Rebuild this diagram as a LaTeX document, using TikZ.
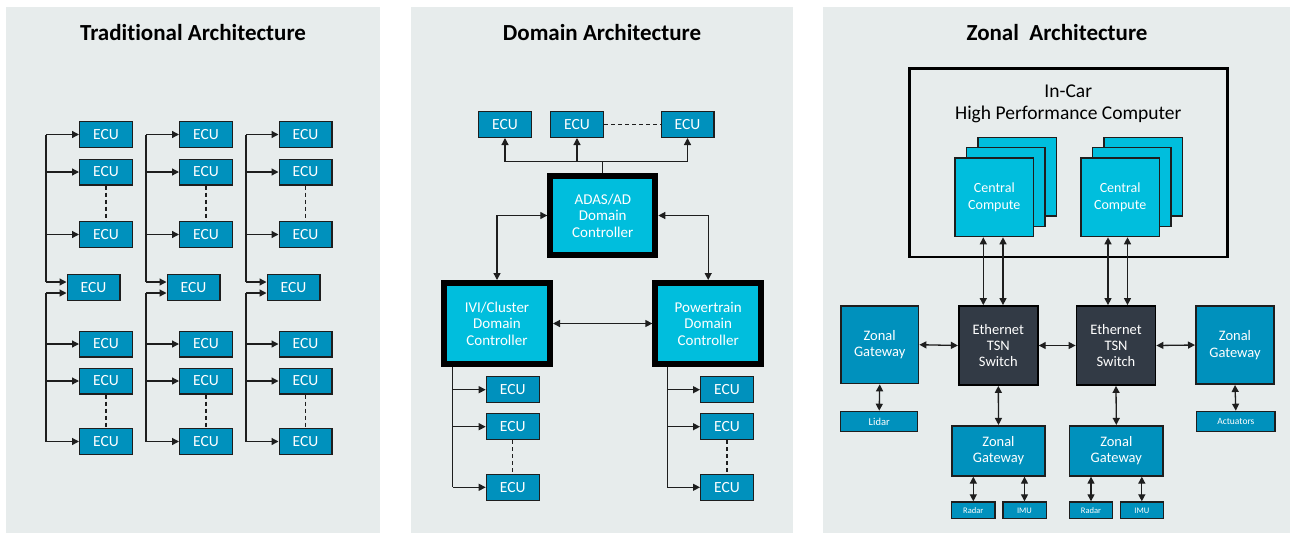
\documentclass[tikz,border=0pt]{standalone}
\usepackage{fontspec}
\setmainfont{Carlito}[Ligatures=NoCommon]
\usetikzlibrary{arrows.meta,calc}
\definecolor{panelbg}{HTML}{E7ECEC}
\definecolor{ecublue}{HTML}{0091BD}
\definecolor{cyanbox}{HTML}{00BEDD}
\definecolor{darksw}{HTML}{323A45}
\definecolor{linec}{HTML}{1E1E1E}
\begin{document}
\begin{tikzpicture}[x=1pt,y=-1pt,
  title/.style={font=\fontsize{23}{25}\selectfont\bfseries,text=black},
  bluebox/.style={draw=linec,fill=ecublue,line width=1.2pt,text=white,inner sep=0pt,align=center},
  ecu/.style={bluebox,minimum width=52.8pt,minimum height=25.8pt,font=\fontsize{15.5}{16}\selectfont},
  ctrl/.style={draw=black,fill=cyanbox,line width=6pt,text=white,inner sep=0pt,align=center,
     font=\fontsize{15}{16.6}\selectfont},
  cc/.style={draw=linec,fill=cyanbox,line width=1.4pt,text=white,inner sep=0pt,align=center,
     minimum width=78.6pt,minimum height=78.6pt,font=\fontsize{14}{17.4}\selectfont},
  sw/.style={draw=black,fill=darksw,line width=1.8pt,text=white,inner sep=0pt,align=center,
     minimum width=79pt,minimum height=79pt,font=\fontsize{14.5}{16.4}\selectfont},
  zg/.style={bluebox,line width=1.6pt,font=\fontsize{14.5}{16.6}\selectfont},
  small/.style={bluebox,line width=1.2pt},
  arr/.style={draw=linec,line width=1.3pt,-{Triangle[length=7pt,width=7pt]}},
  darr/.style={draw=linec,line width=1.3pt,{Triangle[length=7pt,width=7pt]}-{Triangle[length=7pt,width=7pt]}},
  ln/.style={draw=linec,line width=1.3pt},
  dsh/.style={draw=linec,line width=1.2pt,dashed,dash pattern=on 4pt off 3pt}
]
\useasboundingbox (0,0) rectangle (1298,539);
\fill[white] (0,0) rectangle (1298,539);
% panels
\fill[panelbg] (6,7) rectangle (380,533);
\fill[panelbg] (411,7) rectangle (793,533);
\fill[panelbg] (823,7) rectangle (1290,533);
% titles
\node[title] (title1) at (193,33) {Traditional Architecture};
\node[title] (title2) at (602,33) {Domain Architecture};
\node[title] (title3) at (1057,33) {Zonal\ \ Architecture};

% ================= Traditional =================
\foreach \c/\bx/\ex/\mx in {1/46/106/93.5, 2/146/206/193.5, 3/246/305.5/293.5} {
  \coordinate (bus\c) at (\bx,0);
  \node[ecu] (t\c a) at (\ex,134.5) {ECU};
  \node[ecu] (t\c b) at (\ex,172) {ECU};
  \node[ecu] (t\c c) at (\ex,234.5) {ECU};
  \node[ecu] (t\c m) at (\mx,287.5) {ECU};
  \node[ecu] (t\c d) at (\ex,344) {ECU};
  \node[ecu] (t\c e) at (\ex,381) {ECU};
  \node[ecu] (t\c f) at (\ex,441.5) {ECU};
  \coordinate (t\c mu) at ($(t\c m.west)+(0,-5.5)$);
  \coordinate (t\c ml) at ($(t\c m.west)+(0,5.5)$);
  \draw[ln] (bus\c |- t\c a.west) -- (bus\c |- t\c mu);
  \draw[ln] (bus\c |- t\c ml) -- (bus\c |- t\c f.west);
  \draw[arr] (bus\c |- t\c a.west) -- (t\c a.west);
  \draw[arr] (bus\c |- t\c b.west) -- (t\c b.west);
  \draw[arr] (bus\c |- t\c c.west) -- (t\c c.west);
  \draw[arr] (bus\c |- t\c mu) -- (t\c mu);
  \draw[arr] (bus\c |- t\c ml) -- (t\c ml);
  \draw[arr] (bus\c |- t\c d.west) -- (t\c d.west);
  \draw[arr] (bus\c |- t\c e.west) -- (t\c e.west);
  \draw[arr] (bus\c |- t\c f.west) -- (t\c f.west);
  \draw[dsh] (t\c b.south) -- (t\c c.north);
  \draw[dsh] (t\c e.south) -- (t\c f.north);
}

% ================= Domain =================
\node[ecu] (e1) at (505,124.5) {ECU};
\node[ecu] (e2) at (577,124.5) {ECU};
\node[ecu] (e3) at (687.5,124.5) {ECU};
\draw[dsh] (e2.east) -- (e3.west);
\node[ctrl,minimum width=105pt,minimum height=79.6pt] (adas) at (602.8,215.5) {ADAS/AD\\Domain\\Controller};
\node[ctrl,minimum width=106pt,minimum height=81pt] (ivi) at (497,323.5) {IVI/Cluster\\Domain\\Controller};
\node[ctrl,minimum width=105.7pt,minimum height=81pt] (pt) at (708.2,323.5) {Powertrain\\Domain\\Controller};
\coordinate (busm) at (602.8,161.7);
\draw[arr] (adas.north) -- (busm) -| (e1.south);
\draw[arr] (adas.north) -- (busm) -| (e2.south);
\draw[arr] (adas.north) -- (busm) -| (e3.south);
\draw[darr] (adas.west) -| (ivi.north);
\draw[darr] (adas.east) -| (pt.north);
\draw[darr] (ivi.east) -- (pt.west);
% ECUs under IVI / Powertrain
\foreach \g/\ex/\bx in {ivi/512.7/452.7, pt/727/667.3} {
  \node[ecu] (\g a) at (\ex,389.7) {ECU};
  \node[ecu] (\g b) at (\ex,426.7) {ECU};
  \node[ecu] (\g c) at (\ex,487.3) {ECU};
  \coordinate (\g bus) at (\bx,0);
  \draw[ln] (\g bus |- \g.south) -- (\g bus |- \g c.west);
  \draw[arr] (\g bus |- \g a.west) -- (\g a.west);
  \draw[arr] (\g bus |- \g b.west) -- (\g b.west);
  \draw[arr] (\g bus |- \g c.west) -- (\g c.west);
  \draw[dsh] (\g b.south) -- (\g c.north);
}

% ================= Zonal =================
\node[draw=black,line width=2.7pt,fill=none,minimum width=318pt,minimum height=188.3pt,inner sep=0pt] (hpc) at (1068.7,162.8) {};
\node[align=center,font=\fontsize{19.5}{22}\selectfont,text=black] (hpctxt) at (1068.3,103.5) {In-Car\\High Performance Computer};
\foreach \n/\cx in {1/994.3, 2/1120.2} {
  \node[cc] (cc\n c) at (\cx+23,197.3-20.6) {};
  \node[cc] (cc\n b) at (\cx+11.5,197.3-10.3) {};
  \node[cc] (cc\n) at (\cx,197.3) {Central\\Compute};
}
\node[sw] (sw1) at (998.3,345.5) {Ethernet\\TSN\\Switch};
\node[sw] (sw2) at (1116,345.5) {Ethernet\\TSN\\Switch};
\node[zg,minimum width=77.7pt,minimum height=77.7pt] (zgl) at (879.7,344.7) {Zonal\\Gateway};
\node[zg,minimum width=78.4pt,minimum height=78.4pt] (zgr) at (1235,345) {Zonal\\Gateway};
\node[small,minimum width=77pt,minimum height=20.4pt,font=\fontsize{10.5}{12}\selectfont] (lidar) at (879.2,421.5) {Lidar};
\node[small,minimum width=78.4pt,minimum height=19.8pt,font=\fontsize{9.5}{11}\selectfont] (act) at (1235.8,421.2) {Actuators};
\node[zg,minimum width=93.4pt,minimum height=50.1pt] (zg3) at (998.5,450.8) {Zonal\\Gateway};
\node[zg,minimum width=93.7pt,minimum height=50.1pt] (zg4) at (1116.3,450.8) {Zonal\\Gateway};
\node[small,minimum width=43.5pt,minimum height=16.8pt,font=\fontsize{8.5}{10}\selectfont] (rad1) at (973.3,510.3) {Radar};
\node[small,minimum width=43.2pt,minimum height=16.8pt,font=\fontsize{8.5}{10}\selectfont] (imu1) at (1024.5,510.3) {IMU};
\node[small,minimum width=43.5pt,minimum height=16.8pt,font=\fontsize{8.5}{10}\selectfont] (rad2) at (1091,510.3) {Radar};
\node[small,minimum width=43.2pt,minimum height=16.8pt,font=\fontsize{8.5}{10}\selectfont] (imu2) at (1141.8,510.3) {IMU};
% compute <-> switch
\draw[darr] ($(cc1.south)+(-11,0)$) coordinate (q1) -- (q1 |- sw1.north);
\draw[darr] ($(cc1.south)+(8.7,0)$) coordinate (q2) -- (q2 |- sw1.north);
\draw[darr] ($(cc2.south)+(-12.2,0)$) coordinate (q3) -- (q3 |- sw2.north);
\draw[darr] ($(cc2.south)+(7.3,0)$) coordinate (q4) -- (q4 |- sw2.north);
% horizontal links
\draw[darr] (zgl.east) -- (sw1.west);
\draw[darr] (sw1.east) -- (sw2.west);
\draw[darr] (sw2.east) -- (zgr.west);
% vertical links
\draw[darr] (zgl.south) -- (lidar.north);
\draw[darr] (zgr.south) -- (act.north);
\draw[darr] (sw1.south) -- (zg3.north);
\draw[darr] (sw2.south) -- (zg4.north);
\draw[darr] (rad1.north |- zg3.south) -- (rad1.north);
\draw[darr] (imu1.north |- zg3.south) -- (imu1.north);
\draw[darr] (rad2.north |- zg4.south) -- (rad2.north);
\draw[darr] (imu2.north |- zg4.south) -- (imu2.north);
\end{tikzpicture}
\end{document}
